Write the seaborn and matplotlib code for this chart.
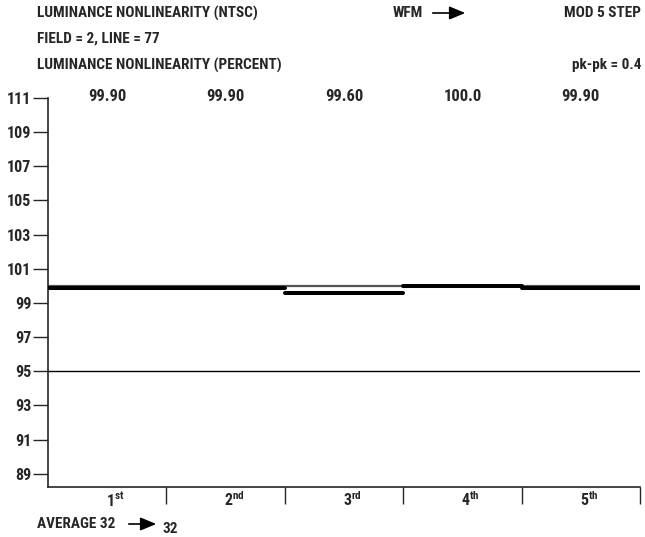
import matplotlib
matplotlib.use("Agg")
import matplotlib.pyplot as plt
import seaborn as sns
import pandas as pd

# ---- data ----
steps = ["1st", "2nd", "3rd", "4th", "5th"]
step_labels = [r"$\mathbf{1^{st}}$", r"$\mathbf{2^{nd}}$", r"$\mathbf{3^{rd}}$",
               r"$\mathbf{4^{th}}$", r"$\mathbf{5^{th}}$"]
values = [99.90, 99.90, 99.60, 100.0, 99.90]
value_labels = ["99.90", "99.90", "99.60", "100.0", "99.90"]
y_ticks = [89, 91, 93, 95, 97, 99, 101, 103, 105, 107, 109, 111]
reference_level = 100.0
limit_level = 95.0

sns.set_style("ticks")
FAM = ["Roboto Condensed", "Liberation Sans", "DejaVu Sans"]
plt.rcParams["font.family"] = FAM
plt.rcParams["font.weight"] = "bold"
plt.rcParams["mathtext.fontset"] = "custom"
plt.rcParams["mathtext.bf"] = "Roboto Condensed:bold"
plt.rcParams["mathtext.rm"] = "Roboto Condensed:bold"

FS = 11
W, H = 645, 537
fig = plt.figure(figsize=(W / 100, H / 100), dpi=100)
ax = fig.add_axes([48 / W, 1 - 486.5 / H, (640 - 48) / W, (486.5 - 98) / H])

rows = []
for i, (s, v) in enumerate(zip(steps, values)):
    rows.append({"x": i - 0.5, "y": v, "step": s})
    rows.append({"x": i + 0.5, "y": v, "step": s})
df = pd.DataFrame(rows)

ref = pd.DataFrame({"x": [-0.5, len(steps) - 0.5], "y": [reference_level] * 2})
lim = pd.DataFrame({"x": [-0.5, len(steps) - 0.5], "y": [limit_level] * 2})

sns.lineplot(data=ref, x="x", y="y", ax=ax, color="#555555", lw=1.6, zorder=2)
sns.lineplot(data=lim, x="x", y="y", ax=ax, color="black", lw=1.0, zorder=2)
sns.lineplot(data=df, x="x", y="y", units="step", estimator=None, ax=ax,
             color="black", lw=2.9, zorder=3, legend=False)

ax.set_xlim(-0.5, len(steps) - 0.5)
ax.set_ylim(88.25, 111)
ax.set_xlabel("")
ax.set_ylabel("")

ax.set_yticks(y_ticks)
ax.set_yticklabels([str(t) for t in y_ticks])
ax.tick_params(axis="y", length=11, width=1.0, pad=1, labelsize=11.5)

ax.set_xticks([i + 0.5 for i in range(len(steps))])
ax.set_xticklabels([])
ax.set_xticks([i + 0.07 for i in range(len(steps))], minor=True)
ax.set_xticklabels(step_labels, minor=True)
ax.tick_params(axis="x", which="major", length=12, width=1.0)
ax.tick_params(axis="x", which="minor", length=0, pad=3, labelsize=11.5)

for side in ["top", "right"]:
    ax.spines[side].set_visible(False)
for side in ["left", "bottom"]:
    ax.spines[side].set_linewidth(1.2)

for i, lab in enumerate(value_labels):
    ax.text(i, 1.003, lab, transform=ax.get_xaxis_transform(), ha="center",
            va="center", fontsize=12, fontweight="bold")

def ftext(x, y, s, ha="left", size=FS):
    fig.text(x / W, 1 - y / H, s, ha=ha, va="center", fontsize=size,
             fontweight="bold")

ftext(37, 13, "LUMINANCE NONLINEARITY (NTSC)")
ftext(393, 13, "WFM")
ftext(641, 13, "MOD 5 STEP", ha="right")
ftext(37, 39, "FIELD = 2, LINE = 77")
ftext(37, 65, "LUMINANCE NONLINEARITY (PERCENT)")
ftext(641, 65, "pk-pk = 0.4", ha="right")
ftext(37, 524, "AVERAGE 32")
ftext(162, 529, "32")

def farrow(x0, x1, y):
    fig.add_artist(matplotlib.patches.FancyArrowPatch(
        (x0 / W, 1 - y / H), (x1 / W, 1 - y / H), transform=fig.transFigure,
        arrowstyle="-|>,head_length=6,head_width=2.5", mutation_scale=1.6,
        color="black", lw=1.2))

farrow(430, 468, 13)
farrow(126, 159, 524)

fig.savefig("out.png", dpi=100)
